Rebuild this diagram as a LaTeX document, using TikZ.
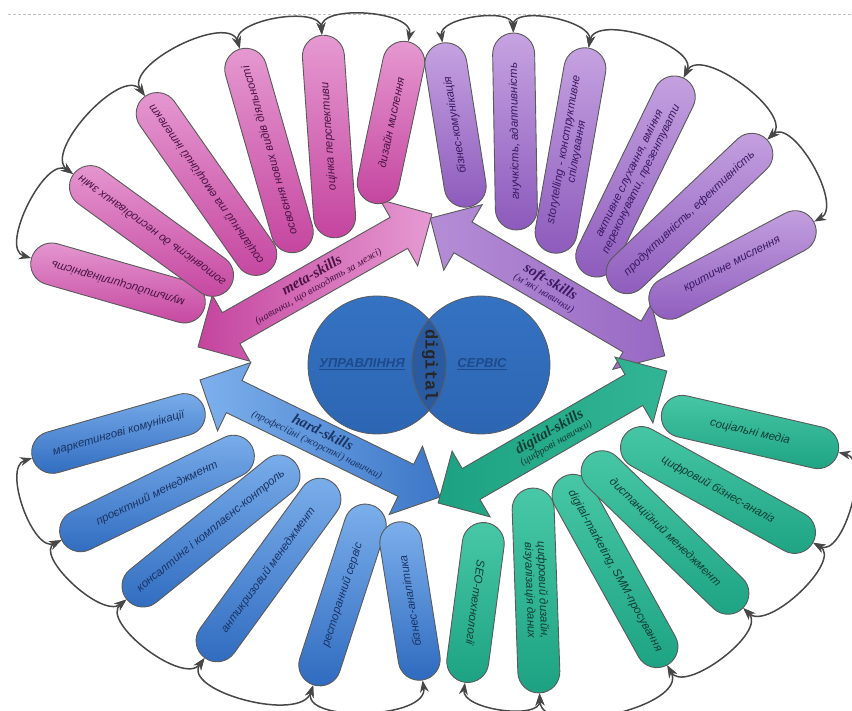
\documentclass[tikz,border=0pt]{standalone}
\usepackage{fontspec}
\setmainfont{Liberation Sans}
\newfontfamily\pillfont{Liberation Sans}
\newfontfamily\arrfont{Liberation Serif}
\newfontfamily\digfont{Liberation Mono}
\usetikzlibrary{shapes.arrows,arrows.meta}

\definecolor{metadark}{HTML}{C4449E}
\definecolor{metalight}{HTML}{E69AD2}
\definecolor{metatext}{HTML}{4A1444}
\definecolor{softdark}{HTML}{8C5ABC}
\definecolor{softlight}{HTML}{C6A3E1}
\definecolor{softtext}{HTML}{3B1A63}
\definecolor{harddark}{HTML}{2D69BE}
\definecolor{hardlight}{HTML}{7DB0EC}
\definecolor{hardtext}{HTML}{1A3465}
\definecolor{digidark}{HTML}{1CA282}
\definecolor{digilight}{HTML}{48C8A6}
\definecolor{digitext}{HTML}{113E34}
\definecolor{edgegray}{HTML}{5A5A5A}
\definecolor{arcgray}{HTML}{474747}
\definecolor{circtop}{HTML}{3572C2}
\definecolor{circmid}{HTML}{5B97DE}
\definecolor{circbot}{HTML}{2C66B3}
\definecolor{lensblue}{HTML}{2A5AA0}
\definecolor{labelblue}{HTML}{1D4A8C}

\begin{document}
\begin{tikzpicture}[x=1pt,y=1pt,
	pill/.style={draw=edgegray, line width=0.9pt, rounded corners=21pt, minimum height=42pt, inner sep=0pt, align=center, font=\pillfont\itshape\fontsize{11.5}{13}\selectfont},
	metapill/.style={pill, top color=metalight, bottom color=metadark, text=metatext},
	softpill/.style={pill, top color=softlight, bottom color=softdark, text=softtext},
	hardpill/.style={pill, top color=hardlight, bottom color=harddark, text=hardtext},
	digipill/.style={pill, top color=digilight, bottom color=digidark, text=digitext},
	bigarrow/.style={double arrow, draw=edgegray, line width=0.9pt, minimum width=76pt, double arrow head extend=19pt, inner ysep=4pt, inner xsep=2pt, align=center, font=\arrfont\itshape},
	chainarc/.style={draw=arcgray, line width=1.5pt, looseness=0.92, {Stealth[length=12pt,width=9pt]}-{Stealth[length=12pt,width=9pt]}}]
	\useasboundingbox (0,0) rectangle (852,711);
	\draw[black!25, line width=0.6pt, dash pattern=on 3pt off 2pt] (8,697) -- (852,697);

	% four double arrows
	\node[bigarrow, left color=metadark, right color=metalight, text=metatext, minimum height=269pt, rotate=29.6] (meta) at (315,430.5)
		{{\bfseries\fontsize{15}{16}\selectfont meta-skills}\\{\fontsize{10.5}{11}\selectfont (навички, що виходять за межі)}};
	\node[bigarrow, left color=softlight!70!softdark, right color=softdark!80!softlight, text=softtext, minimum height=272pt, rotate=-30.4] (soft) at (547.5,424)
		{{\bfseries\fontsize{15}{16}\selectfont soft-skills}\\{\fontsize{10.5}{11}\selectfont (м’які навички)}};
	\node[bigarrow, left color=hardlight, right color=harddark!80!hardlight, text=hardtext, minimum height=267pt, rotate=-26] (hard) at (320,272.5)
		{{\bfseries\fontsize{15}{16}\selectfont hard-skills}\\{\fontsize{10.5}{11}\selectfont (професійні (жорсткі) навички)}};
	\node[bigarrow, left color=digidark, right color=digilight!50!digidark, text=digitext, minimum height=264pt, rotate=30] (digi) at (552.5,274)
		{{\bfseries\fontsize{15}{16}\selectfont digital-skills}\\{\fontsize{10.5}{11}\selectfont (цифрові навички)}};

	% two circles and their lens
	\shade[top color=circtop, middle color=circmid, bottom color=circbot] (377,346) circle (69pt);
	\shade[top color=circtop, middle color=circmid, bottom color=circbot] (481,346) circle (69pt);
	\begin{scope}
		\clip (377,346) circle (69pt);
		\fill[lensblue] (481,346) circle (69pt);
	\end{scope}
	\draw[edgegray, line width=0.8pt] (377,346) circle (69pt) (481,346) circle (69pt);
	\node[text=labelblue, font=\bfseries\itshape\fontsize{13}{13}\selectfont] (mgmt) at (362,347) {\underline{УПРАВЛІННЯ}};
	\node[text=labelblue, font=\bfseries\itshape\fontsize{13}{13}\selectfont] (serv) at (482,347) {\underline{СЕРВІС}};
	\node[text=black!85, font=\digfont\bfseries\fontsize{17}{17}\selectfont, rotate=-90] (dig) at (430,346) {digital};

	% meta-skills
	\node[metapill, minimum width=180pt, rotate=164] (p1) at (118,428) {мультидисциплінарність};
	\node[metapill, minimum width=193pt, rotate=144] (p2) at (151.5,480) {готовність до несподіваних змін};
	\node[metapill, minimum width=214pt, rotate=125] (p3) at (206.5,527) {соціальний та емоційний інтелект};
	\node[metapill, minimum width=211pt, rotate=106] (p4) at (269,560.5) {освоєння нових видів діяльності};
	\node[metapill, minimum width=203pt, rotate=94] (p5) at (329,574.5) {оцінка перспективи};
	\node[metapill, minimum width=165pt, rotate=78] (p6) at (391,588.5) {дизайн мислення};

	% soft-skills
	\node[softpill, minimum width=166pt, rotate=99] (s1) at (455.5,586) {бізнес-комунікація};
	\node[softpill, minimum width=197pt, rotate=91] (s2) at (515,579.5) {гнучкість, адаптивність};
	\node[softpill, minimum width=208pt, rotate=80] (s3) at (570.5,560.5) {storytelling - конструктивне\\спілкування};
	\node[softpill, minimum width=219pt, rotate=64] (s4) at (635.5,534.5) {активне слухання, вміння\\переконувати, презентувати};
	\node[softpill, minimum width=214pt, rotate=43.5] (s5) at (689.5,497.5) {продуктивність, ефективність};
	\node[softpill, minimum width=184pt, rotate=28] (s6) at (732.5,446) {критичне мислення};

	% hard-skills
	\node[hardpill, minimum width=179pt, rotate=16] (b1) at (118.5,277.5) {маркетингові комунікації};
	\node[hardpill, minimum width=212pt, rotate=26] (b2) at (157,217.5) {проєктний менеджмент};
	\node[hardpill, minimum width=217pt, rotate=39] (b3) at (211,180) {консалтинг і комплаєнс-контроль};
	\node[hardpill, minimum width=217pt, rotate=54] (b4) at (268.5,141) {антикризовий менеджмент};
	\node[hardpill, minimum width=189pt, rotate=72] (b5) at (342.5,116) {ресторанний сервіс};
	\node[hardpill, minimum width=160pt, rotate=99] (b6) at (410,110) {бізнес-аналітика};

	% digital-skills
	\node[digipill, minimum width=161pt, rotate=-97.5] (t1) at (475.5,108.5) {SEO-технології};
	\node[digipill, minimum width=205pt, rotate=-88] (t2) at (536,120.5) {цифровий дизайн,\\візуалізація даних};
	\node[digipill, minimum width=215pt, rotate=-61] (t3) at (615,140) {digital-marketing, SMM-просування};
	\node[digipill, minimum width=217pt, rotate=-44] (t4) at (665,178.5) {дистанційний менеджмент};
	\node[digipill, minimum width=217pt, rotate=-29] (t5) at (718,221) {цифровий бізнес-аналіз};
	\node[digipill, minimum width=181pt, rotate=-13] (t6) at (750,279) {соціальні медіа};

	% outer arcs
	\draw[chainarc] (p1.east) to[out=164,in=144] (p2.east);
	\draw[chainarc] (p2.east) to[out=144,in=125] (p3.east);
	\draw[chainarc] (p3.east) to[out=125,in=106] (p4.east);
	\draw[chainarc] (p4.east) to[out=106,in=94] (p5.east);
	\draw[chainarc] (p5.east) to[out=94,in=78] (p6.east);
	\draw[chainarc] (s1.east) to[out=99,in=91] (s2.east);
	\draw[chainarc] (s2.east) to[out=91,in=80] (s3.east);
	\draw[chainarc] (s3.east) to[out=80,in=64] (s4.east);
	\draw[chainarc] (s4.east) to[out=64,in=43.5] (s5.east);
	\draw[chainarc] (s5.east) to[out=43.5,in=28] (s6.east);
	\draw[chainarc] (b1.west) to[out=196,in=206] (b2.west);
	\draw[chainarc] (b2.west) to[out=206,in=219] (b3.west);
	\draw[chainarc] (b3.west) to[out=219,in=234] (b4.west);
	\draw[chainarc] (b4.west) to[out=234,in=252] (b5.west);
	\draw[chainarc] (b5.west) to[out=252,in=279] (b6.west);
	\draw[chainarc] (t1.east) to[out=-97.5,in=-88] (t2.east);
	\draw[chainarc] (t2.east) to[out=-88,in=-61] (t3.east);
	\draw[chainarc] (t3.east) to[out=-61,in=-44] (t4.east);
	\draw[chainarc] (t4.east) to[out=-44,in=-29] (t5.east);
	\draw[chainarc] (t5.east) to[out=-29,in=-13] (t6.east);
\end{tikzpicture}
\end{document}
